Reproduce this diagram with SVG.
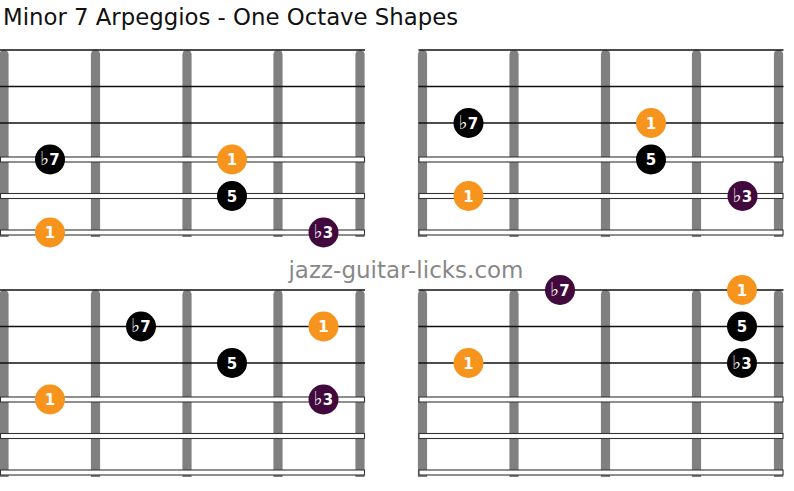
<svg xmlns="http://www.w3.org/2000/svg" xmlns:xlink="http://www.w3.org/1999/xlink" width="794" height="491" viewBox="0 0 794 491">
<style>
.title{font-family:"DejaVu Sans","Liberation Sans",sans-serif;font-size:22.8px;fill:#111}
.wm{font-family:"DejaVu Sans","Liberation Sans",sans-serif;font-size:23px;fill:#888}
.fret{fill:#808080}
.plain{stroke:#111;stroke-width:1.6}
.wound{fill:#fff;stroke:#333;stroke-width:1.1}
.n text{font-family:"DejaVu Sans","Liberation Sans",sans-serif;font-size:15px;font-weight:bold;fill:#fff;text-anchor:middle}
.n .fl{font-family:"DejaVu Sans",sans-serif;font-size:19px;font-weight:bold}
.r circle{fill:#F7941D}
.k circle{fill:#000}
.p circle{fill:#420A3C}
</style>
<defs>
<path id="fret" class="fret" d="M-4.6 187 V4.6 A4.6 4.6 0 0 1 4.6 4.6 V187 Z"/>
<g id="board">
<use xlink:href="#fret" x="4"/>
<use xlink:href="#fret" x="95.5"/>
<use xlink:href="#fret" x="187"/>
<use xlink:href="#fret" x="278"/>
<use xlink:href="#fret" x="360"/>
<line class="plain" x1="0" y1="0" x2="365" y2="0"/>
<line class="plain" x1="0" y1="36.5" x2="365" y2="36.5"/>
<line class="plain" x1="0" y1="73" x2="365" y2="73"/>
<rect class="wound" x="0.5" y="107" width="364" height="5"/>
<rect class="wound" x="0.5" y="143.5" width="364" height="5"/>
<rect class="wound" x="0.5" y="180" width="364" height="5"/>
</g>
</defs>
<text class="title" x="3" y="25">Minor 7 Arpeggios - One Octave Shapes</text>
<text class="wm" x="406" y="278" text-anchor="middle">jazz-guitar-licks.com</text>

<g id="shape1" transform="translate(0,50)">
<use xlink:href="#board"/>
<g id="s1-b7" class="n k"><circle cx="50" cy="109.5" r="15"/><text x="50" y="115"><tspan class="fl">♭</tspan>7</text></g>
<g id="s1-1a" class="n r"><circle cx="50" cy="182.5" r="15"/><text x="50" y="188">1</text></g>
<g id="s1-1b" class="n r"><circle cx="232" cy="109.5" r="15"/><text x="232" y="115">1</text></g>
<g id="s1-5" class="n k"><circle cx="232" cy="146" r="15"/><text x="232" y="151.5">5</text></g>
<g id="s1-b3" class="n p"><circle cx="323.5" cy="182.5" r="15"/><text x="323.5" y="188"><tspan class="fl">♭</tspan>3</text></g>
</g>

<g id="shape2" transform="translate(418.5,50)">
<use xlink:href="#board"/>
<g id="s2-b7" class="n k"><circle cx="50" cy="73" r="15"/><text x="50" y="78.5"><tspan class="fl">♭</tspan>7</text></g>
<g id="s2-1a" class="n r"><circle cx="232.5" cy="73" r="15"/><text x="232.5" y="78.5">1</text></g>
<g id="s2-5" class="n k"><circle cx="232.5" cy="109.5" r="15"/><text x="232.5" y="115">5</text></g>
<g id="s2-1b" class="n r"><circle cx="50" cy="146" r="15"/><text x="50" y="151.5">1</text></g>
<g id="s2-b3" class="n p"><circle cx="324" cy="146" r="15"/><text x="324" y="151.5"><tspan class="fl">♭</tspan>3</text></g>
</g>

<g id="shape3" transform="translate(0,290)">
<use xlink:href="#board"/>
<g id="s3-b7" class="n k"><circle cx="141" cy="36.5" r="15"/><text x="141" y="42"><tspan class="fl">♭</tspan>7</text></g>
<g id="s3-1a" class="n r"><circle cx="323.5" cy="36.5" r="15"/><text x="323.5" y="42">1</text></g>
<g id="s3-5" class="n k"><circle cx="232" cy="73" r="15"/><text x="232" y="78.5">5</text></g>
<g id="s3-1b" class="n r"><circle cx="50" cy="109.5" r="15"/><text x="50" y="115">1</text></g>
<g id="s3-b3" class="n p"><circle cx="323.5" cy="109.5" r="15"/><text x="323.5" y="115"><tspan class="fl">♭</tspan>3</text></g>
</g>

<g id="shape4" transform="translate(418.5,290)">
<use xlink:href="#board"/>
<g id="s4-b7" class="n p"><circle cx="141.5" cy="0" r="15"/><text x="141.5" y="5.5"><tspan class="fl">♭</tspan>7</text></g>
<g id="s4-1a" class="n r"><circle cx="323.5" cy="0" r="15"/><text x="323.5" y="5.5">1</text></g>
<g id="s4-5" class="n k"><circle cx="323.5" cy="36.5" r="15"/><text x="323.5" y="42">5</text></g>
<g id="s4-b3" class="n k"><circle cx="323.5" cy="73" r="15"/><text x="323.5" y="78.5"><tspan class="fl">♭</tspan>3</text></g>
<g id="s4-1b" class="n r"><circle cx="50" cy="73" r="15"/><text x="50" y="78.5">1</text></g>
</g>
</svg>
